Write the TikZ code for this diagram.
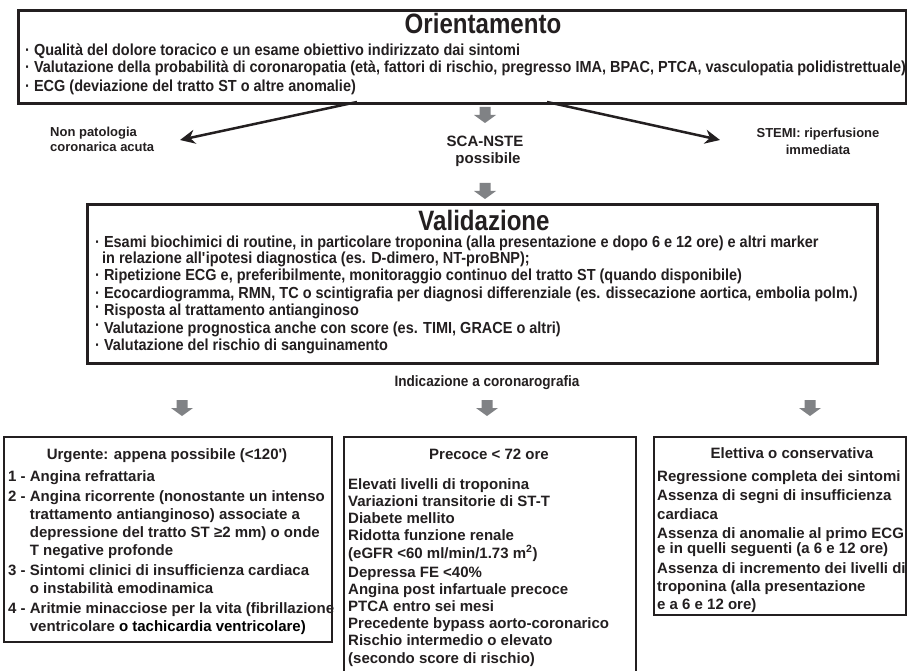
\documentclass[tikz,border=0pt]{standalone}
\usepackage{fontspec}
\setmainfont{Liberation Sans}
\newfontfamily\condf[FakeStretch=0.905]{Liberation Sans}
\newfontfamily\titlef[FakeStretch=0.86]{Liberation Sans}
\usetikzlibrary{arrows.meta}
\definecolor{ink}{HTML}{231F20}
\definecolor{garrow}{HTML}{808285}
\begin{document}
\begin{tikzpicture}[x=1pt,y=-1pt,
  boxthick/.style={draw=ink, line width=3pt, inner sep=0pt, anchor=north west},
  boxthin/.style={draw=ink, line width=2pt, inner sep=0pt, anchor=north west},
  ctitle/.style={font=\titlef\bfseries\fontsize{28}{28}\selectfont, text=ink, inner sep=0pt, anchor=base},
  cline/.style={font=\condf\bfseries\fontsize{16}{17}\selectfont, text=ink, inner sep=0pt, anchor=base west},
  indicf/.style={font=\condf\bfseries\fontsize{15}{17}\selectfont, text=ink, inner sep=0pt, anchor=base},
  lbl/.style={font=\bfseries\fontsize{13}{17}\selectfont, text=ink, inner sep=0pt},
  scaf/.style={font=\bfseries\fontsize{15}{17}\selectfont, text=ink, inner sep=0pt, anchor=base},
  bline/.style={font=\bfseries\fontsize{15}{18}\selectfont, text=ink, inner sep=0pt, anchor=base west},
  btitle/.style={font=\bfseries\fontsize{15}{18}\selectfont, text=ink, inner sep=0pt, anchor=base},
  gblock/.pic={\fill[garrow] (-5.5,0) -- (5.5,0) -- (5.5,8) -- (11,8) -- (0,16) -- (-11,8) -- (-5.5,8) -- cycle;},
  bigarr/.style={draw=ink, line width=2.5pt, -{Stealth[length=15pt,width=14pt]}},
]
\useasboundingbox (0,0) rectangle (907,671);
\fill[white] (0,0) rectangle (907,671);

% ---------- Orientamento ----------
\node[boxthick, minimum width=888pt, minimum height=93pt] (orient) at (17,9) {};
\node[ctitle] (otitle) at (483,34) {Orientamento};
\node[cline] (o1) at (25,55.5) {· Qualità del dolore toracico e un esame obiettivo indirizzato dai sintomi};
\node[cline] (o2) at (25,73) {· Valutazione della probabilità di coronaropatia (età, fattori di rischio, pregresso IMA, BPAC, PTCA, vasculopatia polidistrettuale)};
\node[cline] (o3) at (25,91.5) {· ECG (deviazione del tratto ST o altre anomalie)};

% ---------- branches ----------
\node[lbl, anchor=base west] (np1) at (50,137) {Non patologia};
\node[lbl, anchor=base west] (np2) at (50,152) {coronarica acuta};
\node[scaf] (sca1) at (485,147) {SCA-NSTE};
\node[scaf] (sca2) at (488,164) {possibile};
\node[lbl, anchor=base] (st1) at (818,138) {STEMI: riperfusione};
\node[lbl, anchor=base] (st2) at (818,155) {immediata};

\coordinate (lstart) at (357,102);
\coordinate (ltip) at (180,140);
\coordinate (rstart) at (547,102);
\coordinate (rtip) at (720,140);
\draw[bigarr] (lstart) -- (ltip);
\draw[bigarr] (rstart) -- (rtip);

\pic (g1) at (485,107) {gblock};
\pic (g2) at (485,183) {gblock};

% ---------- Validazione ----------
\node[boxthick, minimum width=790pt, minimum height=159pt] (valid) at (86,203) {};
\node[ctitle] (vtitle) at (484,230) {Validazione};
\node[cline] (v1) at (95,247) {· Esami biochimici di routine, in particolare troponina (alla presentazione e dopo 6 e 12 ore) e altri marker};
\node[cline] (v1b) at (102,263) {in relazione all\textquotesingle ipotesi diagnostica (es. D-dimero, NT-proBNP);};
\node[cline] (v2) at (95,280) {· Ripetizione ECG e, preferibilmente, monitoraggio continuo del tratto ST (quando disponibile)};
\node[cline] (v3) at (95,298) {· Ecocardiogramma, RMN, TC o scintigrafia per diagnosi differenziale (es. dissecazione aortica, embolia polm.)};
\node[cline] (v4) at (95,315) {\raisebox{2.5pt}{·} Risposta al trattamento antianginoso};
\node[cline] (v5) at (95,333) {\raisebox{2.5pt}{·} Valutazione prognostica anche con score (es. TIMI, GRACE o altri)};
\node[cline] (v6) at (95,350) {· Valutazione del rischio di sanguinamento};

\node[indicf] (indic) at (487,386) {Indicazione a coronarografia};
\pic (g3) at (182,400) {gblock};
\pic (g4) at (487,400) {gblock};
\pic (g5) at (810,400) {gblock};

% ---------- Urgente ----------
\node[boxthin, minimum width=328pt, minimum height=205pt] (urg) at (3,436) {};
\node[btitle] (utitle) at (167,459) {Urgente: appena possibile (<120\textquotesingle)};
\node[bline] (u1) at (8,481) {1 - Angina refrattaria};
\node[bline] (u2) at (8,501) {2 - Angina ricorrente (nonostante un intenso};
\node[bline] (u2b) at (8,519) {\phantom{2 - }trattamento antianginoso) associate a};
\node[bline] (u2c) at (8,537) {\phantom{2 - }depressione del tratto ST ≥2 mm) o onde};
\node[bline] (u2d) at (8,555) {\phantom{2 - }T negative profonde};
\node[bline] (u3) at (8,575) {3 - Sintomi clinici di insufficienza cardiaca};
\node[bline] (u3b) at (8,593) {\phantom{3 - }o instabilità emodinamica};
\node[bline] (u4) at (8,613) {4 - Aritmie minacciose per la vita (fibrillazione};
\node[bline] (u4b) at (8,631) {\phantom{4 - }ventricolare \textcolor{black}{o tachicardia ventricolare)}};

% ---------- Precoce ----------
\node[boxthin, minimum width=292pt, minimum height=260pt] (prec) at (343,436) {};
\node[btitle] (ptitle) at (489,459) {Precoce < 72 ore};
\node[bline] (p1) at (348,489) {Elevati livelli di troponina};
\node[bline] (p2) at (348,506) {Variazioni transitorie di ST-T};
\node[bline] (p3) at (348,523) {Diabete mellito};
\node[bline] (p4) at (348,540) {Ridotta funzione renale};
\node[bline] (p5) at (348,558) {(eGFR <60 ml/min/1.73 m\textsuperscript{2})};
\node[bline] (p6) at (348,577) {Depressa FE <40\%};
\node[bline] (p7) at (348,594) {Angina post infartuale precoce};
\node[bline] (p8) at (348,611) {PTCA entro sei mesi};
\node[bline] (p9) at (348,628) {Precedente bypass aorto-coronarico};
\node[bline] (p10) at (348,645) {Rischio intermedio o elevato};
\node[bline] (p11) at (348,663) {(secondo score di rischio)};

% ---------- Elettiva ----------
\node[boxthin, minimum width=252pt, minimum height=178pt] (elet) at (653,436) {};
\node[btitle] (etitle) at (792,458) {Elettiva o conservativa};
\node[bline] (e1) at (657,481) {Regressione completa dei sintomi};
\node[bline] (e2) at (657,500) {Assenza di segni di insufficienza};
\node[bline] (e3) at (657,519) {cardiaca};
\node[bline] (e4) at (657,538) {Assenza di anomalie al primo ECG};
\node[bline] (e5) at (657,553) {e in quelli seguenti (a 6 e 12 ore)};
\node[bline] (e6) at (657,573) {Assenza di incremento dei livelli di};
\node[bline] (e7) at (657,591) {troponina (alla presentazione};
\node[bline] (e8) at (657,609) {e a 6 e 12 ore)};
\end{tikzpicture}
\end{document}
